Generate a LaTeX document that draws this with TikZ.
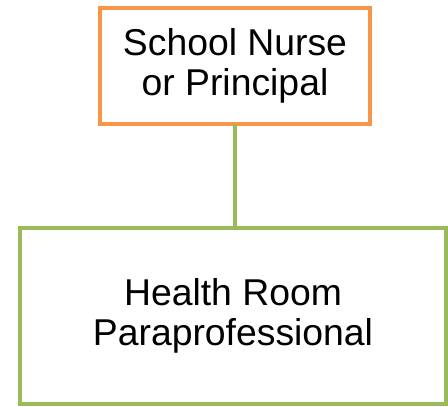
\documentclass[tikz,border=0pt]{standalone}
\usepackage{fontspec}
\setmainfont{Liberation Sans}
\usepackage{xcolor}
\usetikzlibrary{positioning}
\definecolor{boxorange}{HTML}{F79646}
\definecolor{boxgreen}{HTML}{9BBB59}

\begin{document}
\begin{tikzpicture}[
  x=0.75pt,y=-0.75pt,
  line cap=rect,
  line join=miter,
  orgbox/.style={draw,fill=white,line width=3pt,inner sep=0pt,
    align=center,font=\fontsize{28}{29.5}\selectfont},
  headbox/.style={orgbox,draw=boxorange,minimum width=202.5pt,minimum height=87pt},
  staffbox/.style={orgbox,draw=boxgreen,minimum width=319.5pt,minimum height=132pt},
  link/.style={boxgreen,line width=2.4pt}
]
\path[use as bounding box] (0,0) rectangle (448,406);

\node[headbox] (nurse) at (235,66) {School Nurse\\or Principal};
\node[staffbox] (para) at (233,316) {Health Room\\Paraprofessional};

\draw[link] (nurse.south) -- (nurse.south |- para.north);
\end{tikzpicture}
\end{document}
